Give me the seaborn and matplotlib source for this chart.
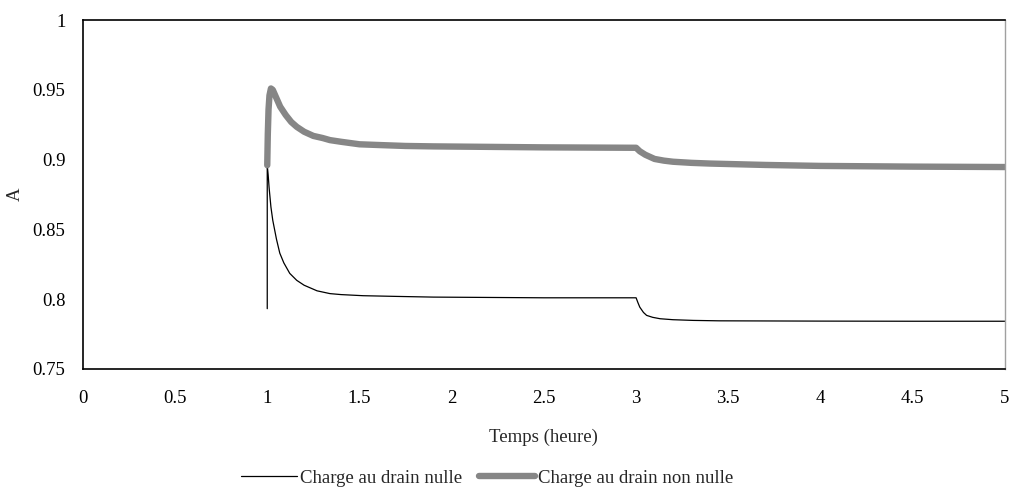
import matplotlib
matplotlib.use("Agg")
import matplotlib.pyplot as plt
import pandas as pd
import seaborn as sns

# Courbe "Charge au drain nulle"
t_nulle = [1.0, 1.0, 1.005, 1.01, 1.02, 1.03, 1.05, 1.068, 1.09, 1.122, 1.16, 1.2, 1.27,
           1.34, 1.4, 1.52, 1.7, 1.9, 2.5, 3.0, 3.01, 3.02, 3.04, 3.057, 3.09, 3.13, 3.2,
           3.31, 3.45, 4.0, 4.5, 5.0]
a_nulle = [0.7932, 0.896, 0.889, 0.88, 0.866, 0.8565, 0.843, 0.833, 0.826, 0.8185, 0.8135,
           0.81, 0.806, 0.804, 0.8033, 0.8025, 0.802, 0.8015, 0.801, 0.801, 0.7975, 0.7943,
           0.7905, 0.7884, 0.787, 0.786, 0.7853, 0.7848, 0.7845, 0.7843, 0.7842, 0.7842]

# Courbe "Charge au drain non nulle"
t_non_nulle = [1.0, 1.003, 1.007, 1.012, 1.02, 1.03, 1.05, 1.07, 1.1, 1.13, 1.16, 1.2,
               1.25, 1.3, 1.34, 1.4, 1.5, 1.6, 1.75, 1.9, 2.5, 3.0, 3.02, 3.05, 3.1, 3.15,
               3.2, 3.3, 3.4, 3.7, 4.0, 4.5, 5.0]
a_non_nulle = [0.896, 0.918, 0.936, 0.946, 0.951, 0.950, 0.944, 0.938, 0.932, 0.927, 0.9235,
               0.920, 0.917, 0.9155, 0.914, 0.9128, 0.911, 0.9105, 0.9098, 0.9095, 0.9088,
               0.9085, 0.906, 0.9035, 0.9005, 0.8993, 0.8985, 0.8977, 0.8972, 0.8962, 0.8955,
               0.895, 0.8947]

x_ticks = [0, 0.5, 1, 1.5, 2, 2.5, 3, 3.5, 4, 4.5, 5]
x_tick_labels = ["0", "0.5", "1", "1.5", "2", "2.5", "3", "3.5", "4", "4.5", "5"]
y_ticks = [0.75, 0.8, 0.85, 0.9, 0.95, 1.0]
y_tick_labels = ["0.75", "0.8", "0.85", "0.9", "0.95", "1"]

df_nulle = pd.DataFrame({"t": t_nulle, "A": a_nulle})
df_non_nulle = pd.DataFrame({"t": t_non_nulle, "A": a_non_nulle})

sns.set_style("white")
plt.rcParams["font.family"] = ["Liberation Serif", "DejaVu Serif"]
plt.rcParams["font.size"] = 13.5

fig = plt.figure(figsize=(10.1, 4.9), dpi=100)
ax = fig.add_axes([0.082, 0.247, 0.913, 0.712])

sns.lineplot(data=df_nulle, x="t", y="A", sort=False, estimator=None,
             color="black", linewidth=0.9, ax=ax, label="Charge au drain nulle")
sns.lineplot(data=df_non_nulle, x="t", y="A", sort=False, estimator=None,
             color="#868686", linewidth=4.6, ax=ax, label="Charge au drain non nulle")

ax.set_xlim(0, 5)
ax.set_ylim(0.75, 1.0)
ax.set_xticks(x_ticks)
ax.set_xticklabels(x_tick_labels)
ax.set_yticks(y_ticks)
ax.set_yticklabels(y_tick_labels)
ax.tick_params(axis="x", direction="in", length=4, width=0.8, pad=15, labelsize=13.5, colors="black")
ax.tick_params(axis="y", direction="out", length=4.5, width=0.8, pad=8, labelsize=13.5, colors="black")

for side in ["left", "bottom", "top"]:
    ax.spines[side].set_color("black")
    ax.spines[side].set_linewidth(1.2)
ax.spines["right"].set_color("#a0a0a0")
ax.spines["right"].set_linewidth(1.0)

ax.set_xlabel("Temps (heure)", fontsize=13.5, labelpad=16)
ax.set_ylabel("A", fontsize=13.5, labelpad=6)

ax.legend_.remove()
handles, labels = ax.get_legend_handles_labels()
fig.legend(handles, labels, loc="center", bbox_to_anchor=(0.482, 0.024), ncol=2,
           frameon=False, fontsize=13.5, handlelength=3.0, handletextpad=0.15,
           columnspacing=0.9)

fig.savefig("out.png", dpi=100)
